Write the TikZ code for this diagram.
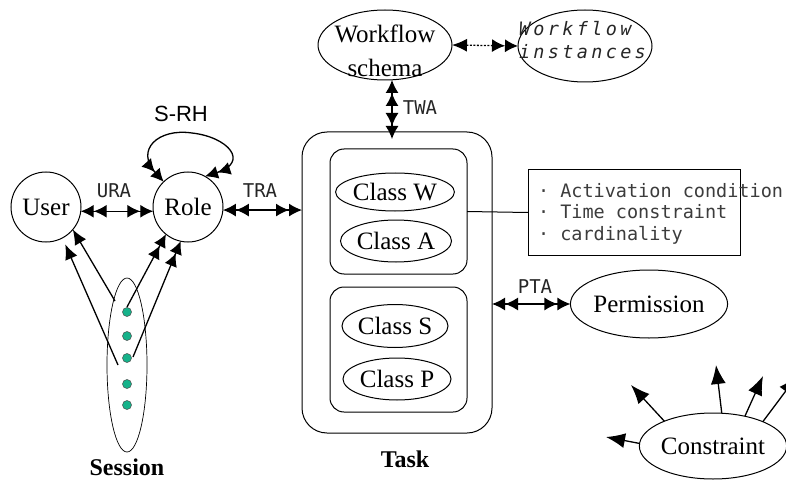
\documentclass[tikz,border=0pt]{standalone}
\usepackage{fontspec}
\setmainfont{Liberation Serif}
\newfontfamily\gothic{DejaVu Sans Mono}
\newfontfamily\gothicsp{DejaVu Sans Mono}[LetterSpace=18]
\newfontfamily\arialf{Liberation Sans}
\usetikzlibrary{arrows.meta,shapes.geometric}
\definecolor{dotgreen}{RGB}{22,178,138}
\definecolor{notegray}{RGB}{60,60,60}
\tikzset{
  ah/.tip={Latex[length=15pt,width=13pt]},
  ahh/.tip={Latex[length=13pt,width=13pt] Latex[length=13pt,width=13pt]},
  bigah/.tip={Latex[length=19pt,width=15pt]},
}
\begin{document}
\begin{tikzpicture}[x=1pt,y=-1pt,
  every node/.style={inner sep=0pt, outer sep=0pt},
  conn/.style={line width=1.3pt},
  circ/.style={draw, circle, line width=1pt, minimum size=70pt, font=\fontsize{25}{25}\selectfont},
  ell/.style={draw, ellipse, line width=1pt, font=\fontsize{25}{25}\selectfont},
  rbox/.style={draw, line width=1pt},
  lbl/.style={font=\gothic\fontsize{19}{19}\selectfont, text=black!85},
  notetext/.style={font=\gothic\fontsize{18.5}{18.5}\selectfont, text=notegray, anchor=base west},
  sdot/.style={circle, draw=black!70, fill=dotgreen, line width=0.5pt, minimum size=9pt},
  bold/.style={font=\bfseries\fontsize{24}{24}\selectfont},
]
\useasboundingbox (0,0) rectangle (786,481);

% nodes
\node[circ] (user) at (46,207) {User};
\node[circ] (role) at (188,207) {Role};
\node[font=\arialf\fontsize{22}{22}\selectfont] (srh) at (181,114) {S-RH};

% Task
\node[rbox, rounded corners=25pt, minimum width=190pt, minimum height=301pt] (task) at (397,282.5) {};
\node[rbox, rounded corners=14pt, minimum width=137pt, minimum height=125pt] (boxa) at (398.5,211.5) {};
\node[rbox, rounded corners=14pt, minimum width=137pt, minimum height=125pt] (boxb) at (398.5,349.5) {};
\node[ell, minimum width=105pt, minimum height=38pt] (cw) at (395,192) {Class W};
\node[ell, minimum width=105pt, minimum height=42pt] (ca) at (396,241) {Class A};
\node[ell, minimum width=106pt, minimum height=43pt] (cs) at (395,326) {Class S};
\node[ell, minimum width=108pt, minimum height=42pt] (cp) at (397,379) {Class P};
\node[bold] (tasklbl) at (405,459) {Task};

% Workflow
\node[ell, minimum width=134pt, minimum height=70pt] (ws) at (385,45) {};
\node[align=center, font=\fontsize{25}{34.5}\selectfont] (wstext) at (385,51) {Workflow\\schema};
\node[ell, minimum width=134pt, minimum height=72pt] (wi) at (585,46) {};
\node[align=left, anchor=west, font=\gothicsp\itshape\fontsize{18.5}{23}\selectfont, text=black!85] (witext) at (519,40) {Workflow\\instances};

% Note box
\node[rbox, minimum width=212pt, minimum height=85pt] (note) at (634,212.5) {};
\node[notetext] (n1) at (538,197) {· Activation condition};
\node[notetext] (n2) at (538,218.5) {· Time constraint};
\node[notetext] (n3) at (538,240) {· cardinality};

% Permission, Constraint
\node[ell, minimum width=134pt, minimum height=68pt] (perm) at (649,304) {Permission};
\node[ell, minimum width=126pt, minimum height=66pt] (con) at (713,446) {Constraint};

% Session
\node[draw, ellipse, line width=0.7pt, minimum width=40pt, minimum height=174pt] (sess) at (127,365) {};
\node[sdot] (d1) at (127,312) {};
\node[sdot] (d2) at (127,336) {};
\node[sdot] (d3) at (127,358) {};
\node[sdot] (d4) at (127,384) {};
\node[sdot] (d5) at (127,405) {};
\node[bold] (sesslbl) at (127,467) {Session};

% labels
\node[lbl] (ura) at (114,191) {URA};
\node[lbl] (tra) at (260,191) {TRA};
\node[lbl] (twa) at (420,108) {TWA};
\node[lbl] (pta) at (535,287) {PTA};

% coordinates
\coordinate (s1) at (115,301);
\coordinate (s2) at (118,365);
\coordinate (s3) at (127,307);
\coordinate (s4) at (133,357);
\coordinate (c1) at (606,437);
\coordinate (c2) at (631,385);
\coordinate (c3) at (716,365);
\coordinate (c4) at (763,376);
\coordinate (c5) at (797,376);

% connectors
\draw[conn, ahh-ahh] (user.-7) -- (role.-173);
\draw[conn, ahh-ahh] (role.-5) -- (task.west |- role.-5);
\draw[conn, ahh-ahh] (role.134) .. controls (135,150) and (158,128) .. (192,133)
      .. controls (228,137) and (250,162) .. (role.61);
\draw[conn, ahh-ahh, shorten >=-7pt] ([xshift=7pt]ws.south) -- ([xshift=7pt]ws.south |- task.north);
\draw[conn, ah-ahh, dashed, dash pattern=on 2pt off 1.5pt] (ws.east) -- (wi.west);
\draw[line width=1pt] (boxa.east) -- (note.west);
\draw[conn, ahh-ahh] (task.east |- perm.west) -- (perm.west);

% session arrows
\draw[conn, -ah] (s1) -- (user.-40);
\draw[conn, -ah, shorten >=7pt] (s2) -- (user.-62);
\draw[conn, -ahh] (s3) -- (role.-129);
\draw[conn, -ahh] (s4) -- (role.-102);

% constraint arrows
\draw[conn, -bigah] (con.178) -- (c1);
\draw[conn, -bigah] (con.153) -- (c2);
\draw[conn, -bigah] (con.75) -- (c3);
\draw[conn, -bigah] (con.43) -- (c4);
\draw[conn, -bigah] (con.26) -- (c5);
\end{tikzpicture}
\end{document}
